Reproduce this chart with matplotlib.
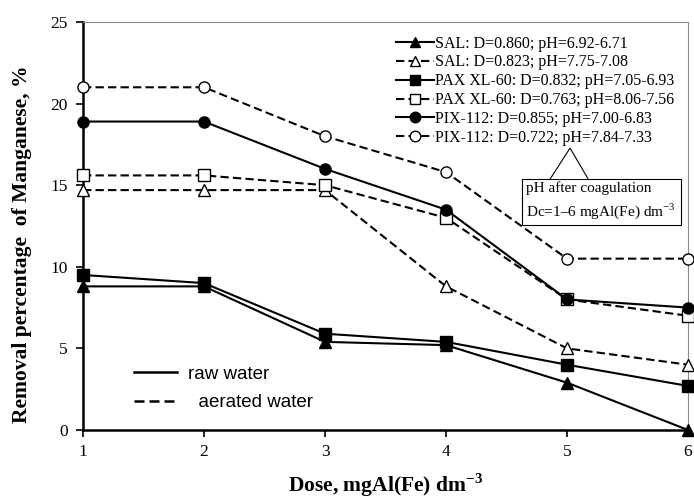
import numpy as np
import matplotlib
matplotlib.use("Agg")
import matplotlib.pyplot as plt
from matplotlib.lines import Line2D
from matplotlib.patches import Polygon

plt.rcParams['font.family'] = ['Liberation Serif', 'DejaVu Serif']
plt.rcParams['mathtext.fontset'] = 'custom'
plt.rcParams['mathtext.rm'] = 'Liberation Serif'
plt.rcParams['mathtext.bf'] = 'Liberation Serif:bold'

# Coagulant dose (mgAl(Fe)/dm3)
dose = [1, 2, 3, 4, 5, 6]

# Manganese removal, %
sal_raw = [8.8, 8.8, 5.4, 5.2, 2.9, 0.0]
sal_aer = [14.7, 14.7, 14.7, 8.8, 5.0, 4.0]
pax_raw = [9.5, 9.0, 5.9, 5.4, 4.0, 2.7]
pax_aer = [15.6, 15.6, 15.0, 13.0, 8.0, 7.0]
pix_raw = [18.9, 18.9, 16.0, 13.5, 8.0, 7.5]
pix_aer = [21.0, 21.0, 18.0, 15.8, 10.5, 10.5]

labels = [
    "SAL: D=0.860; pH=6.92-6.71",
    "SAL: D=0.823; pH=7.75-7.08",
    "PAX XL-60: D=0.832; pH=7.05-6.93",
    "PAX XL-60: D=0.763; pH=8.06-7.56",
    "PIX-112: D=0.855; pH=7.00-6.83",
    "PIX-112: D=0.722; pH=7.84-7.33",
]

fig = plt.figure(figsize=(6.94, 5.0), dpi=100)
ax = fig.add_axes([0.1196, 0.14, 0.8718, 0.816])

series = [
    (sal_raw, '^', 'black', '-'),
    (sal_aer, '^', 'white', '--'),
    (pax_raw, 's', 'black', '-'),
    (pax_aer, 's', 'white', '--'),
    (pix_raw, 'o', 'black', '-'),
    (pix_aer, 'o', 'white', '--'),
]

handles = []
for (vals, mk, fc, ls), lab in zip(series, labels):
    line, = ax.plot(dose, vals, color='black', lw=1.5, linestyle=ls,
                    marker=mk, markersize=8, markerfacecolor=fc,
                    markeredgecolor='black', markeredgewidth=1.0,
                    clip_on=False, zorder=3, label=lab)
    if ls == '--':
        line.set_dashes((4, 2))
    handles.append(line)

ax.set_xlim(1, 6)
ax.set_ylim(0, 25)
ax.set_xticks(dose)
ax.set_yticks([0, 5, 10, 15, 20, 25])

for s in ['left', 'bottom']:
    ax.spines[s].set_linewidth(1.8)
    ax.spines[s].set_color('black')
for s in ['top', 'right']:
    ax.spines[s].set_linewidth(0.8)
    ax.spines[s].set_color('#888888')

ax.tick_params(axis='both', direction='out', length=5, width=1.2,
               labelsize=12.5, colors='black')
ax.tick_params(axis='x', pad=5)
ax.tick_params(axis='y', pad=6)

ax.set_ylabel("Removal percentage  of Manganese, %", fontsize=15.5,
              fontweight='bold')
ax.yaxis.set_label_coords(-0.085, 0.456)
ax.set_xlabel(r"Dose, mgAl(Fe) dm$^{\mathbf{-3}}$", fontsize=15.5,
              fontweight='bold', labelpad=8)

leg = ax.legend(handles=handles, loc='upper right',
                bbox_to_anchor=(1.0, 1.0), frameon=False, fontsize=11.5,
                handlelength=2.4, handletextpad=0.05, labelspacing=0.18,
                borderaxespad=0.45, markerscale=0.95)

# callout box with the pH note
ax.text(0.733, 0.609, "pH after coagulation\nDc=1\u20136 mgAl(Fe) dm$^{-3}$",
        transform=ax.transAxes, fontsize=11, linespacing=1.4,
        ha='left', va='top',
        bbox=dict(boxstyle='square,pad=0.3', fc='white', ec='black', lw=0.8),
        zorder=5)
tri = Polygon([(0.772, 0.615), (0.805, 0.691), (0.835, 0.615)],
              closed=False, transform=ax.transAxes, fc='white', ec='black',
              lw=0.8, zorder=6, clip_on=False)
ax.add_patch(tri)

# raw / aerated key in the lower left
key = [Line2D([0], [0], color='black', lw=1.8, linestyle='-'),
       Line2D([0], [0], color='black', lw=1.8, dashes=(4, 2))]
ax.legend(key, ["raw water", "  aerated water"],
          loc='lower left', bbox_to_anchor=(0.057, 0.005),
          frameon=False, handlelength=2.3, handletextpad=0.55,
          labelspacing=0.6,
          prop={'family': 'Liberation Sans', 'size': 13.5})
ax.add_artist(leg)

fig.savefig("out.png", dpi=100)
